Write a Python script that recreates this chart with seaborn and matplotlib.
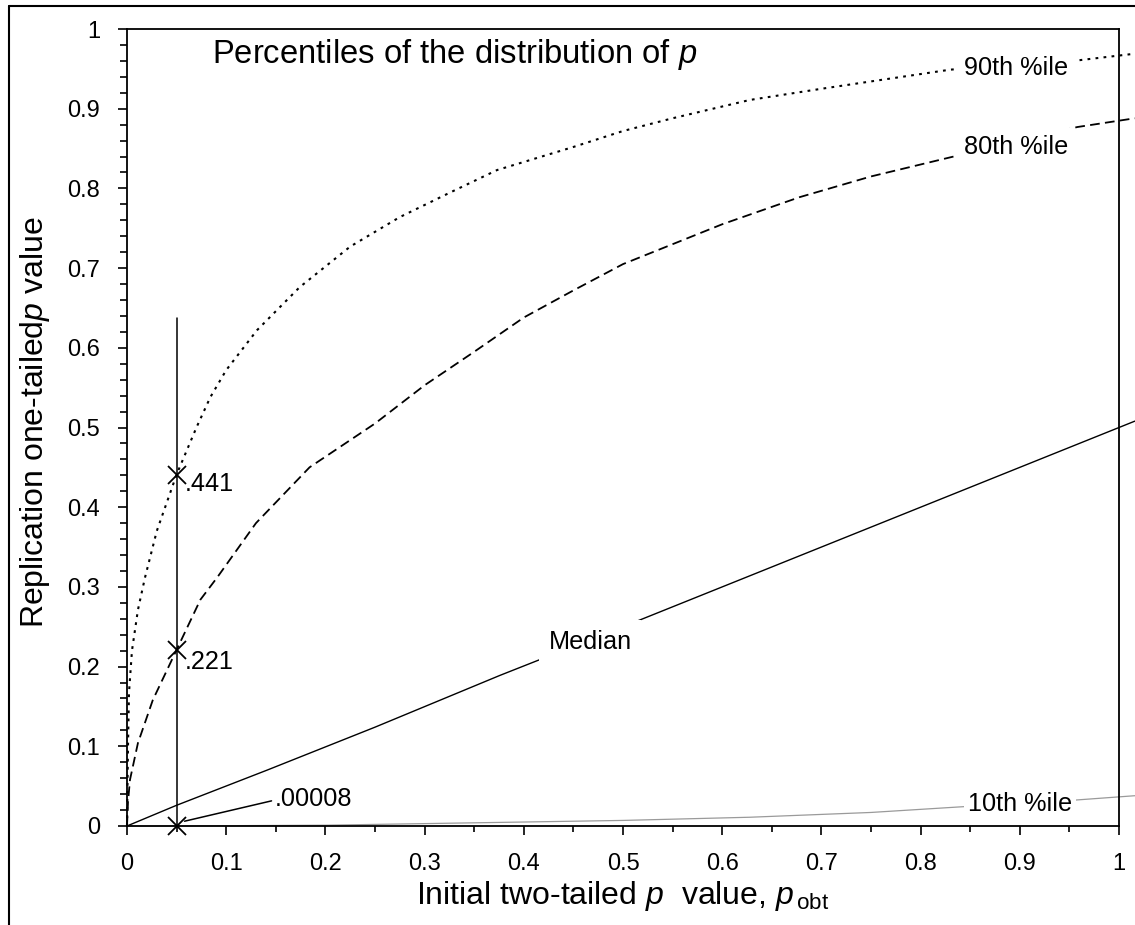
import matplotlib
matplotlib.use("Agg")
import matplotlib.pyplot as plt
from matplotlib.lines import Line2D
import seaborn as sns
import pandas as pd
import numpy as np

# ---- data ----
x_p90 = [0, 0.001, 0.002, 0.005, 0.011, 0.018, 0.03, 0.05, 0.07, 0.084, 0.1, 0.131,
         0.174, 0.225, 0.275, 0.326, 0.373, 0.45, 0.5, 0.55, 0.628, 0.7, 0.83, 0.961, 1.016]
y_p90 = [0, 0.10, 0.167, 0.22, 0.271, 0.311, 0.37, 0.441, 0.50, 0.538, 0.572, 0.622,
         0.676, 0.727, 0.764, 0.795, 0.823, 0.852, 0.872, 0.888, 0.911, 0.925, 0.949, 0.961, 0.969]

x_p80 = [0, 0.001, 0.003, 0.011, 0.026, 0.05, 0.074, 0.091, 0.13, 0.184, 0.25, 0.3,
         0.35, 0.4, 0.45, 0.5, 0.55, 0.6, 0.678, 0.75, 0.83, 0.958, 1.016]
y_p80 = [0, 0.03, 0.058, 0.104, 0.158, 0.221, 0.284, 0.312, 0.38, 0.450, 0.505, 0.553,
         0.595, 0.638, 0.672, 0.705, 0.73, 0.755, 0.789, 0.815, 0.839, 0.877, 0.888]

x_med = [0, 0.05, 0.141, 0.25, 0.376, 0.5, 0.65, 0.8, 0.9, 1.016]
y_med = [0, 0.026, 0.070, 0.124, 0.189, 0.25, 0.325, 0.40, 0.45, 0.508]

x_p10 = [0, 0.05, 0.2, 0.35, 0.5, 0.628, 0.75, 0.84, 0.95, 1.016]
y_p10 = [0, 0.00008, 0.001, 0.004, 0.007, 0.011, 0.017, 0.024, 0.032, 0.038]

p_crit = 0.05
crit_values = [0.441, 0.221, 0.00008]
crit_labels = [".441", ".221", ".00008"]
vline_top = 0.637

x_ticks = [0, 0.1, 0.2, 0.3, 0.4, 0.5, 0.6, 0.7, 0.8, 0.9, 1.0]
x_tick_labels = ["0", "0.1", "0.2", "0.3", "0.4", "0.5", "0.6", "0.7", "0.8", "0.9", "1"]
y_ticks = x_ticks
y_tick_labels = x_tick_labels

series_labels = ["90th %ile", "80th %ile", "Median", "10th %ile"]

# ---- style ----
sns.set_style("white")
plt.rcParams["font.family"] = ["Liberation Sans", "DejaVu Sans"]
plt.rcParams["mathtext.fontset"] = "custom"
plt.rcParams["mathtext.rm"] = "Liberation Sans"
plt.rcParams["mathtext.it"] = "Liberation Sans:italic"
plt.rcParams["lines.scale_dashes"] = False
for k in ["text.color", "axes.labelcolor", "xtick.color", "ytick.color", "axes.edgecolor"]:
    plt.rcParams[k] = "black"

fig = plt.figure(figsize=(11.35, 9.25), dpi=100)
ax = fig.add_axes([127 / 1135, 1 - 826 / 925, (1119 - 127) / 1135, (826 - 29) / 925])

df = pd.concat([
    pd.DataFrame({"pobt": x_p90, "prep": y_p90, "series": series_labels[0]}),
    pd.DataFrame({"pobt": x_p80, "prep": y_p80, "series": series_labels[1]}),
    pd.DataFrame({"pobt": x_med, "prep": y_med, "series": series_labels[2]}),
    pd.DataFrame({"pobt": x_p10, "prep": y_p10, "series": series_labels[3]}),
])

styles = {
    series_labels[0]: dict(color="black", lw=1.5, linestyle=(0, (2.0, 3.8))),
    series_labels[1]: dict(color="black", lw=1.3, linestyle=(0, (7.0, 3.8))),
    series_labels[2]: dict(color="black", lw=1.0, linestyle="-"),
    series_labels[3]: dict(color="#9a9a9a", lw=0.9, linestyle="-"),
}
for name in series_labels[::-1]:
    sub = df[df["series"] == name]
    sns.lineplot(data=sub, x="pobt", y="prep", ax=ax, sort=False, estimator=None,
                 errorbar=None, clip_on=False, zorder=2, **styles[name])

# vertical line at p = .05 and crosses
ax.plot([p_crit, p_crit], [0, vline_top], color="black", lw=1.1, zorder=3, clip_on=False)
ax.plot([p_crit] * len(crit_values), crit_values, linestyle="none", marker="x",
        markersize=13, mew=1.3, color="black", zorder=4, clip_on=False)

fs_ann = 18.2
ax.text(p_crit + 0.008, crit_values[0] - 0.012, crit_labels[0], fontsize=fs_ann,
        ha="left", va="center")
ax.text(p_crit + 0.008, crit_values[1] - 0.015, crit_labels[1], fontsize=fs_ann,
        ha="left", va="center")
ax.annotate(crit_labels[2], xy=(p_crit + 0.008, 0.006), xytext=(0.149, 0.034),
            fontsize=fs_ann, ha="left", va="center",
            arrowprops=dict(arrowstyle="-", lw=1.1, color="black",
                            shrinkA=0, shrinkB=0, relpos=(0, 0.45)))

# curve labels (white boxes interrupt the curves)
box = dict(facecolor="white", edgecolor="none", pad=5)
ax.text(0.896, 0.951, series_labels[0], fontsize=fs_ann, ha="center", va="center", bbox=box, zorder=5)
ax.text(0.896, 0.852, series_labels[1], fontsize=fs_ann, ha="center", va="center", bbox=box, zorder=5)
ax.text(0.467, 0.231, series_labels[2], fontsize=fs_ann, ha="center", va="center",
        bbox=dict(facecolor="white", edgecolor="none", pad=7), zorder=5)
ax.text(0.900, 0.028, series_labels[3], fontsize=fs_ann, ha="center", va="center",
        bbox=dict(facecolor="white", edgecolor="none", pad=3), zorder=5)

ax.text(0.086, 0.968, r"Percentiles of the distribution of $\it{p}$", fontsize=23.6,
        ha="left", va="center")

# axes
ax.set_xlim(0, 1)
ax.set_ylim(0, 1)
ax.set_xticks(x_ticks)
ax.set_xticklabels(x_tick_labels)
ax.set_yticks(y_ticks)
ax.set_yticklabels(y_tick_labels)
ax.set_xticks(np.arange(0.05, 1.0, 0.1), minor=True)
ax.set_yticks([v for v in np.arange(0.02, 1.0, 0.02) if abs(v * 10 - round(v * 10)) > 1e-6], minor=True)
ax.tick_params(axis="x", which="major", direction="out", length=6.5, width=1.2,
               labelsize=17, pad=13, bottom=True)
ax.tick_params(axis="x", which="minor", direction="out", length=4.5, width=1.2, bottom=True)
ax.tick_params(axis="y", which="major", direction="out", length=6.5, width=1.2,
               labelsize=17, pad=13, left=True)
ax.tick_params(axis="y", which="minor", direction="out", length=5.0, width=1.2, left=True)
for s in ax.spines.values():
    s.set_visible(True)
    s.set_color("black")
    s.set_linewidth(1.3)

ax.set_xlabel(r"Initial two-tailed $\it{p}$  value, $\it{p}_{\,\rm obt}$", fontsize=23)
ax.set_ylabel(r"Replication one-tailed$\it{p}$ value", fontsize=23)
ax.xaxis.set_label_coords(0.5, -0.066)
ax.yaxis.set_label_coords(-0.0756, 0.507)

# outer frame (partially visible in the reference)
fig.add_artist(Line2D([8.5 / 1135, 8.5 / 1135], [0, 1 - 6 / 925], color="black", lw=1.5,
                      transform=fig.transFigure))
fig.add_artist(Line2D([8.5 / 1135, 1], [1 - 6 / 925, 1 - 6 / 925], color="black", lw=1.5,
                      transform=fig.transFigure))

fig.savefig("out.png", dpi=100)
